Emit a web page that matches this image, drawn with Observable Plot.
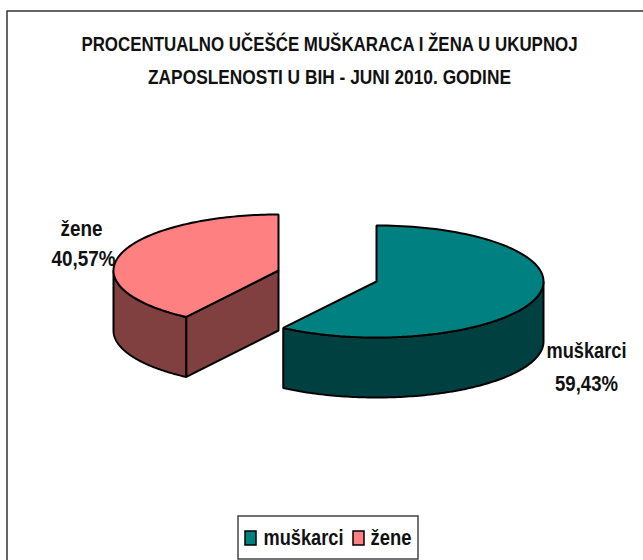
<!DOCTYPE html>
<html><head><meta charset="utf-8">
<script src="https://cdn.jsdelivr.net/npm/d3@7"></script>
<script src="https://cdn.jsdelivr.net/npm/@observablehq/plot@0.6"></script>
<style>html,body{margin:0;padding:0;background:#fff;overflow:hidden}</style>
</head><body><div id="chart"></div>
<script>
const titleLines = ["PROCENTUALNO UČEŠĆE MUŠKARACA I ŽENA U UKUPNOJ", "ZAPOSLENOSTI U BIH - JUNI 2010. GODINE"];
const categories = ["muškarci", "žene"];
const shares = [59.43, 40.57];
const shareLabels = ["59,43%", "40,57%"];
const topColors = ["#008080", "#ff8080"];
const sideColors = ["#004040", "#804040"];

const W = 643, H = 560;
const font = "'Liberation Sans',Arial,sans-serif";
const geom = [{cx: 376, cy: 281, rx: 167, ry: 56, d: 60}, {cx: 278, cy: 270, rx: 165, ry: 56, d: 60}];

const total = d3.sum(shares);
const cum = d3.cumsum(shares);
const slices = categories.map((c, i) => ({
  c, g: geom[i],
  a0: (i ? cum[i - 1] : 0) / total * 2 * Math.PI,
  a1: cum[i] / total * 2 * Math.PI
}));
const P = (g, a, dz = 0) => ({x: g.cx + g.rx * Math.sin(a), y: g.cy - g.ry * Math.cos(a) + dz});
const arc = (g, a0, a1, dz = 0) => d3.range(0, 121).map(k => P(g, a0 + (a1 - a0) * k / 120, dz));

const polys = [];
slices.forEach((s, i) => {
  const g = s.g;
  const f0 = Math.max(s.a0, Math.PI / 2), f1 = Math.min(s.a1, 3 * Math.PI / 2);
  polys.push({fill: sideColors[i], pts: [...arc(g, f0, f1), ...arc(g, f1, f0, g.d)]});
  if (i === 1) {
    const a = s.a0, c = {x: g.cx, y: g.cy};
    polys.push({fill: sideColors[i], pts: [c, P(g, a), P(g, a, g.d), {x: c.x, y: c.y + g.d}]});
  }
  polys.push({fill: topColors[i], pts: [{x: g.cx, y: g.cy}, ...arc(g, s.a0, s.a1)]});
});

const polyMarks = polys.map(p => Plot.line(p.pts, {
  x: "x", y: "y", fill: p.fill, stroke: "#000", strokeWidth: 2, curve: "linear-closed", strokeLinejoin: "miter"
}));

const measure = document.createElement("canvas").getContext("2d");
const T = (text, x, y, len, o = {}) => {
  const size = o.fontSize || 22;
  measure.font = `bold ${size}px ${font}`;
  const sx = len / measure.measureText(text).width;
  return Plot.text([text], {
    x: () => x, y: () => y, text: d => d, fontFamily: font, fontWeight: "bold", fontSize: size, fill: "#111",
    textAnchor: "middle", lineAnchor: "middle",
    render(index, scales, values, dims, ctx, next) {
      const g = next(index, scales, values, dims, ctx);
      g.querySelectorAll("text").forEach(t => {
        t.setAttribute("transform", `${t.getAttribute("transform") || ""} scale(${sx},1)`);
      });
      return g;
    },
    ...o
  });
};

const chart = Plot.plot({
  width: W, height: H, margin: 0,
  x: {domain: [0, W], range: [0, W], axis: null},
  y: {domain: [0, H], range: [0, H], axis: null},
  style: {background: "#fff"},
  marks: [
    Plot.rect([0], {x1: () => 7, x2: () => 700, y1: () => 11, y2: () => 620, fill: "#fff", stroke: "#333", strokeWidth: 1.5}),
    ...polyMarks,
    T(titleLines[0], 329, 44, 498, {fontSize: 21}),
    T(titleLines[1], 329, 77, 363, {fontSize: 21}),
    T(categories[1], 81, 228, 42),
    T(shareLabels[1], 83, 258, 64),
    T(categories[0], 586, 350, 80),
    T(shareLabels[0], 586, 383, 63),
    Plot.rect([0], {x1: () => 238, x2: () => 418, y1: () => 516, y2: () => 559, fill: "#fff", stroke: "#444", strokeWidth: 1.5}),
    Plot.rect([0], {x1: () => 245, x2: () => 256, y1: () => 531, y2: () => 545, fill: topColors[0], stroke: "#000", strokeWidth: 1.5}),
    Plot.rect([0], {x1: () => 353, x2: () => 364, y1: () => 531, y2: () => 545, fill: topColors[1], stroke: "#000", strokeWidth: 1.5}),
    T(categories[0], 263, 537, 80, {textAnchor: "start"}),
    T(categories[1], 370, 537, 41, {textAnchor: "start"})
  ]
});
document.getElementById("chart").append(chart);
</script></body></html>
